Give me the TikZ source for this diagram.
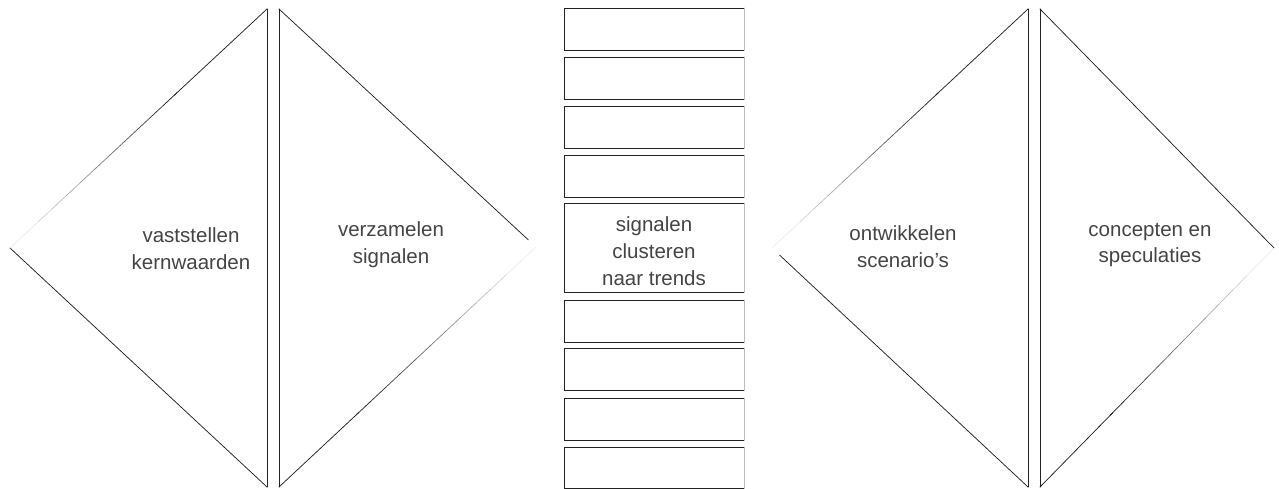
\documentclass[tikz,border=0pt]{standalone}
\usepackage{fontspec}
\setmainfont{Liberation Sans}
\usetikzlibrary{calc}
\definecolor{ink}{HTML}{222222}
\definecolor{txt}{HTML}{444444}
\tikzset{
  pen/.style={draw=ink, line width=0.75pt, line cap=round},
  faint/.style={draw=ink!30, line width=0.7pt, line cap=round},
  label/.style={text=txt, font=\fontsize{20.5}{27}\selectfont, align=center, inner sep=0pt},
}
% pencil stroke that fades from dark at #1 to almost nothing at #2
\newcommand{\fadestroke}[2]{%
  \foreach \i in {0,...,11}{%
    \pgfmathsetmacro{\a}{\i/12}%
    \pgfmathsetmacro{\b}{(\i+1)/12}%
    \pgfmathsetmacro{\c}{max(8,100-\i*9)}%
    \draw[draw=ink!\c, line width=0.75pt]
      ($(#1)!\a!(#2)$) -- ($(#1)!\b!(#2)$);
  }%
}
\begin{document}
\begin{tikzpicture}[x=1pt,y=-1pt]
\useasboundingbox (0,0) rectangle (1279,489);

% ---- left pair of half-diamonds
\coordinate (t1top) at (267,9);
\coordinate (t1bot) at (267,487);
\coordinate (t1tip) at (10,248);
\coordinate (t2top) at (279,9);
\coordinate (t2bot) at (279,487);
\coordinate (t2tip) at (536,247);

\draw[pen] (t1top) -- (t1bot);
\draw[pen] (t1tip) -- (t1bot);
\fadestroke{$(t1top)!0.35!(t1tip)$}{t1tip}
\draw[pen] (t1top) -- ($(t1top)!0.36!(t1tip)$);

\draw[pen] (t2top) -- (t2bot);
\draw[pen] (t2top) -- ($(t2top)!0.97!(t2tip)$);
\fadestroke{$(t2bot)!0.3!(t2tip)$}{t2tip}
\draw[pen] (t2bot) -- ($(t2bot)!0.31!(t2tip)$);

\node[label] (kern) at (191,249) {vaststellen\\kernwaarden};
\node[label] (verz) at (391,245) {verzamelen\\signalen};

% ---- right pair of half-diamonds
\coordinate (t3top) at (1028,9);
\coordinate (t3bot) at (1028,487);
\coordinate (t3tip) at (772,248);
\coordinate (t4top) at (1040,9);
\coordinate (t4bot) at (1040,487);
\coordinate (t4tip) at (1274,248);

\draw[pen] (t3top) -- (t3bot);
\draw[pen] (t3bot) -- ($(t3bot)!0.97!(t3tip)$);
\fadestroke{$(t3top)!0.35!(t3tip)$}{t3tip}
\draw[pen] (t3top) -- ($(t3top)!0.36!(t3tip)$);

\draw[pen] (t4top) -- (t4bot);
\draw[pen] (t4top) -- (t4tip);
\fadestroke{$(t4bot)!0.3!(t4tip)$}{t4tip}
\draw[pen] (t4bot) -- ($(t4bot)!0.31!(t4tip)$);

\node[label] (ontw) at (903,247) {ontwikkelen\\scenario's};
\node[label] (conc) at (1150,245) {concepten en\\speculaties};

% ---- column of boxes
\foreach \n/\top/\bot in {b1/8/50, b2/57/99, b3/106/148, b4/155/197,
                          b5/203/292,
                          b6/300/342, b7/348/390, b8/398/440, b9/447/488}{
  \coordinate (\n nw) at (564,\top);
  \coordinate (\n ne) at (744,\top);
  \coordinate (\n sw) at (564,\bot);
  \coordinate (\n se) at (744,\bot);
  \draw[pen] (\n ne) -- (\n nw) -- (\n sw) -- (\n se);
  \draw[faint] (\n ne) -- (\n se);
}
\node[label] (clus) at (654,251) {signalen\\clusteren\\naar trends};
\end{tikzpicture}
\end{document}
